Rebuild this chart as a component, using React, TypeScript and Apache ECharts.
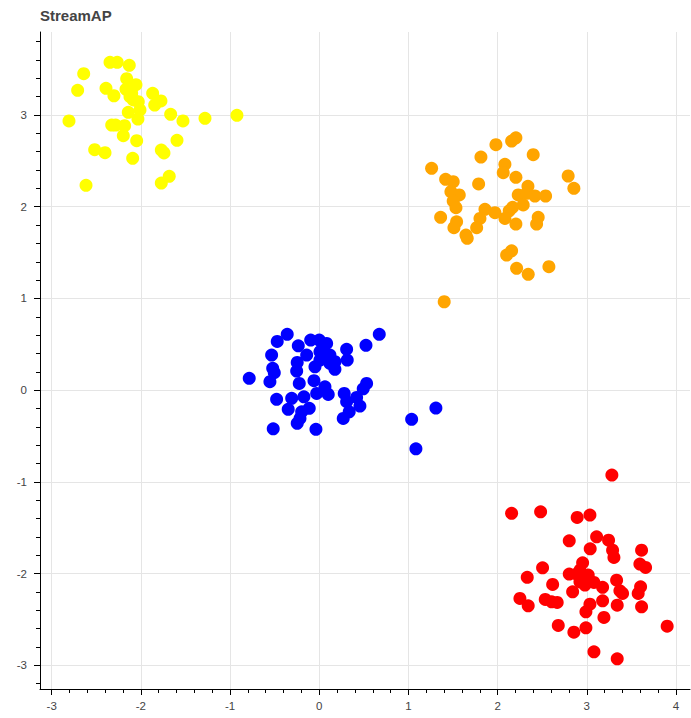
import React, { useEffect, useRef } from "react";
import * as echarts from "echarts";

const TITLE = "StreamAP";
const TICKS_X = [-3, -2, -1, 0, 1, 2, 3, 4];
const TICKS_Y = [-3, -2, -1, 0, 1, 2, 3];
const X_RANGE = [-3.131, 4.157];
const Y_RANGE = [-3.258, 3.905];

const yellowPoints: [number, number][] = [
  [-2.346, 3.575], [-2.265, 3.575], [-2.13, 3.542], [-2.641, 3.45], [-2.159, 3.396],
  [-2.055, 3.33], [-2.709, 3.269], [-2.391, 3.291], [-2.302, 3.21], [-2.167, 3.28],
  [-2.122, 3.2], [-1.868, 3.237], [-1.775, 3.153], [-2.029, 3.145], [-1.845, 3.109],
  [-2.01, 3.055], [-2.141, 3.029], [-1.666, 3.008], [-1.281, 2.964], [-0.923, 2.997],
  [-2.806, 2.935], [-1.528, 2.935], [-2.033, 2.956], [-2.327, 2.891], [-2.283, 2.891],
  [-2.182, 2.883], [-2.197, 2.774], [-2.047, 2.72], [-1.595, 2.724], [-2.518, 2.622],
  [-2.402, 2.589], [-1.771, 2.618], [-1.741, 2.586], [-2.092, 2.528], [-1.682, 2.332],
  [-1.771, 2.258], [-2.615, 2.233], [-2.103, 3.237], [-2.085, 3.164],
];

const orangePoints: [number, number][] = [
  [2.205, 2.752], [2.157, 2.716], [1.981, 2.676], [1.813, 2.542], [2.399, 2.567],
  [1.26, 2.419], [2.082, 2.462], [2.063, 2.371], [2.205, 2.321], [2.791, 2.335],
  [1.417, 2.299], [1.502, 2.273], [1.787, 2.248], [2.855, 2.201], [2.34, 2.222],
  [1.476, 2.164], [1.57, 2.128], [2.231, 2.128], [2.325, 2.146], [2.418, 2.117],
  [2.538, 2.117], [1.502, 2.062], [2.287, 2.019], [1.533, 1.989], [1.858, 1.972],
  [1.97, 1.935], [2.168, 1.993], [2.13, 1.956], [1.361, 1.884], [1.802, 1.873],
  [2.082, 1.873], [2.455, 1.884], [1.54, 1.836], [2.205, 1.811], [2.437, 1.811],
  [1.51, 1.771], [1.765, 1.771], [1.645, 1.691], [1.659, 1.655], [2.157, 1.52],
  [2.101, 1.473], [2.213, 1.328], [2.343, 1.263], [2.575, 1.346], [1.401, 0.964],
];

const bluePoints: [number, number][] = [
  [-0.359, 0.609], [-0.471, 0.532], [-0.096, 0.546], [0.0, 0.546], [0.083, 0.51],
  [0.673, 0.609], [0.524, 0.489], [-0.235, 0.484], [0.307, 0.445], [-0.534, 0.383],
  [-0.141, 0.383], [0.008, 0.419], [0.12, 0.383], [0.008, 0.328], [0.176, 0.31],
  [0.314, 0.328], [-0.247, 0.303], [-0.522, 0.238], [-0.048, 0.255], [0.176, 0.227],
  [-0.504, 0.19], [-0.253, 0.208], [-0.785, 0.129], [-0.553, 0.092], [-0.224, 0.074],
  [-0.059, 0.103], [0.064, 0.037], [0.531, 0.074], [0.493, 0.015], [-0.029, -0.035],
  [0.101, -0.046], [0.28, -0.035], [-0.478, -0.1], [-0.309, -0.089], [-0.172, -0.072],
  [0.307, -0.126], [0.419, -0.079], [-0.112, -0.198], [0.456, -0.173], [-0.348, -0.209],
  [-0.197, -0.236], [0.336, -0.236], [1.308, -0.195], [-0.216, -0.308], [0.269, -0.308],
  [1.036, -0.318], [-0.247, -0.362], [-0.516, -0.421], [-0.037, -0.427], [1.084, -0.639],
  [0.045, 0.456], [0.12, 0.292],
];

const redPoints: [number, number][] = [
  [3.281, -0.926], [2.157, -1.343], [2.482, -1.326], [2.892, -1.387], [3.035, -1.362],
  [2.803, -1.642], [3.11, -1.599], [3.244, -1.635], [3.038, -1.73], [3.289, -1.744],
  [3.304, -1.823], [3.614, -1.744], [2.953, -1.882], [2.504, -1.937], [3.595, -1.896],
  [3.659, -1.932], [2.332, -2.041], [2.803, -2.005], [2.886, -2.005], [3.016, -2.016],
  [2.617, -2.118], [2.923, -2.089], [3.08, -2.096], [3.334, -2.071], [3.177, -2.15],
  [2.979, -2.125], [3.603, -2.144], [2.841, -2.198], [3.371, -2.188], [3.401, -2.216],
  [3.576, -2.216], [2.25, -2.27], [2.343, -2.351], [2.534, -2.281], [2.606, -2.308],
  [2.668, -2.314], [3.035, -2.333], [3.177, -2.297], [3.341, -2.344], [3.614, -2.362],
  [2.99, -2.417], [3.192, -2.478], [2.68, -2.565], [2.855, -2.638], [2.99, -2.591],
  [3.901, -2.573], [3.08, -2.853], [3.341, -2.929], [2.923, -1.962],
];

const CLUSTERS = [
  { name: "yellow", color: "#ffff00", data: yellowPoints },
  { name: "orange", color: "#ffa500", data: orangePoints },
  { name: "blue", color: "#0000ff", data: bluePoints },
  { name: "red", color: "#ff0000", data: redPoints },
];

const FONT = "'Liberation Sans', Arial, Helvetica, sans-serif";

function axisBase(ticks: number[], range: number[], margin: number) {
  return {
    type: "value" as const,
    min: range[0],
    max: range[1],
    minInterval: 1,
    maxInterval: 1,
    axisLine: { show: true, onZero: false, lineStyle: { color: "#000", width: 1 } },
    axisTick: { show: true, length: 6, customValues: ticks, lineStyle: { color: "#000", width: 1 } },
    minorTick: { show: true, splitNumber: 5, length: 4, lineStyle: { color: "#000", width: 1 } },
    axisLabel: {
      customValues: ticks,
      color: "#444",
      fontSize: 11.5,
      fontFamily: FONT,
      margin,
      formatter: (v: number) => String(v),
    },
    splitLine: { show: true, lineStyle: { color: "#e5e5e5", width: 1 } },
    minorSplitLine: { show: false },
  };
}

export default function App() {
  const ref = useRef<HTMLDivElement>(null);
  useEffect(() => {
    document.body.style.margin = "0";
    const chart = echarts.init(ref.current!, undefined, { renderer: "svg" });
    chart.setOption({
      animation: false,
      backgroundColor: "#fff",
      title: {
        text: TITLE,
        left: 40,
        top: 8,
        padding: 0,
        textStyle: { color: "#444", fontSize: 15, fontWeight: "bold", fontFamily: FONT },
      },
      grid: { left: 40, right: 1, top: 32, bottom: 29, containLabel: false },
      xAxis: axisBase(TICKS_X, X_RANGE, 11),
      yAxis: axisBase(TICKS_Y, Y_RANGE, 13),
      series: CLUSTERS.map((c) => ({
        name: c.name,
        type: "scatter",
        data: c.data,
        symbol: "circle",
        symbolSize: 13,
        itemStyle: { color: c.color, opacity: 1 },
      })),
    });
    return () => chart.dispose();
  }, []);
  return <div ref={ref} style={{ width: 691, height: 718 }} />;
}
